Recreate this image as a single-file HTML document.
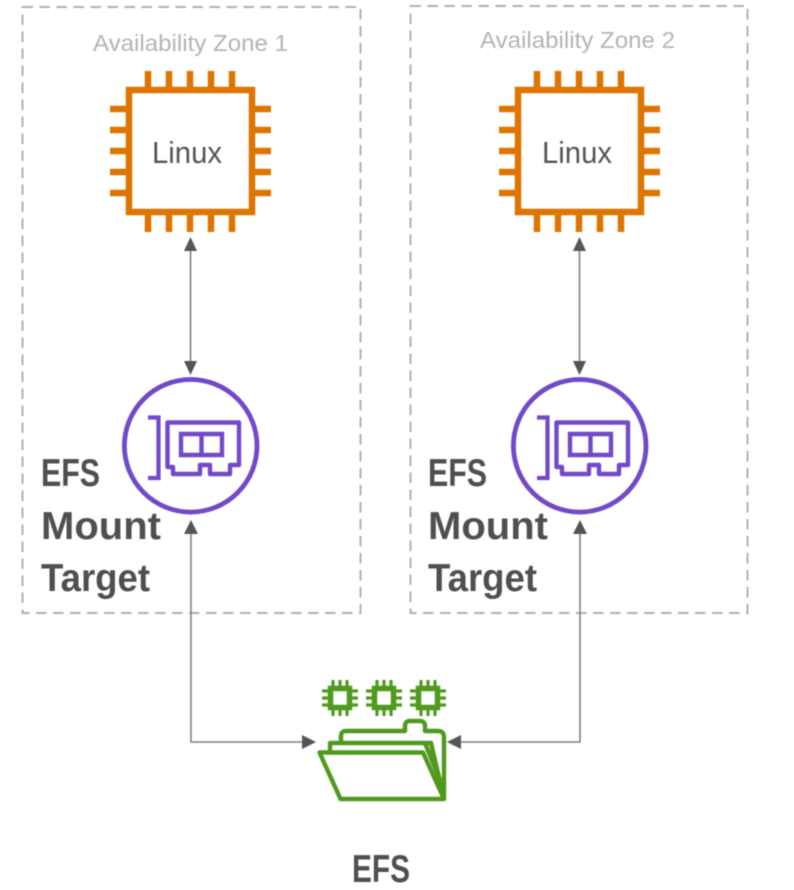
<!DOCTYPE html>
<html>
<head>
<meta charset="utf-8">
<style>
html,body{margin:0;padding:0;background:#fff;width:794px;height:890px;overflow:hidden}
svg{display:block}
text{font-family:"Liberation Sans",sans-serif}
</style>
</head>
<body>
<svg width="794" height="890" viewBox="0 0 794 890" xmlns="http://www.w3.org/2000/svg">
<defs>
<filter id="b" x="-5%" y="-5%" width="110%" height="110%"><feGaussianBlur stdDeviation="0.55"/></filter>
<g id="chip" fill="none" stroke="#dd7400" stroke-width="6.5">
  <rect x="129" y="90" width="123" height="122"/>
  <path stroke-width="6.5" d="M148 71V87M169 71V87M190 71V87M211 71V87M232 71V87M148 215V232M169 215V232M190 215V232M211 215V232M232 215V232M110 109H126M110 130H126M110 151H126M110 172H126M110 193H126M255 109H271M255 130H271M255 151H271M255 172H271M255 193H271"/>
</g>
<g id="nic" fill="none" stroke="#7248c8">
  <circle cx="190.7" cy="445.8" r="66.3" stroke-width="4.8"/>
  <path stroke-width="4.2" d="M148 417.5H158.5V478H148"/>
  <path stroke-width="4.4" stroke-linejoin="round" d="M167.5 422.5H239V465H230V474H210V465H200V474H173V467H167.5Z"/>
  <path stroke-width="4.4" d="M181 434H222V455H181ZM201.5 434V455"/>
</g>
<g id="mini" fill="none" stroke="#4f9a1e">
  <rect x="-9.5" y="-9.5" width="19" height="19" stroke-width="5.5"/>
  <path stroke-width="3.2" d="M-7-18V-12M0-18V-12M7-18V-12M-7 12V18M0 12V18M7 12V18M-18-7H-12M-18 0H-12M-18 7H-12M12-7H18M12 0H18M12 7H18"/>
</g>
</defs>
<g filter="url(#b)">
  <rect x="22.5" y="7" width="338" height="606" fill="none" stroke="#b0b0b0" stroke-width="2" stroke-dasharray="10.5 6.5"/>
  <rect x="410.5" y="6" width="337" height="607" fill="none" stroke="#b0b0b0" stroke-width="2" stroke-dasharray="10.5 6.5"/>

  <text x="93" y="51" font-size="23" fill="#b4b4b4" textLength="195" lengthAdjust="spacingAndGlyphs">Availability Zone 1</text>
  <text x="480" y="48" font-size="23" fill="#b4b4b4" textLength="195" lengthAdjust="spacingAndGlyphs">Availability Zone 2</text>

  <use href="#chip"/>
  <use href="#chip" x="389"/>
  <text x="152" y="163" font-size="31" fill="#555" textLength="70" lengthAdjust="spacingAndGlyphs">Linux</text>
  <text x="542" y="163" font-size="31" fill="#555" textLength="70" lengthAdjust="spacingAndGlyphs">Linux</text>

  <use href="#nic"/>
  <use href="#nic" x="389"/>

  <g font-size="39" font-weight="700" fill="#505050">
    <text x="41" y="486" textLength="59" lengthAdjust="spacingAndGlyphs">EFS</text>
    <text x="41" y="539" textLength="120" lengthAdjust="spacingAndGlyphs">Mount</text>
    <text x="41" y="591" textLength="109" lengthAdjust="spacingAndGlyphs">Target</text>
    <text x="428" y="486" textLength="59" lengthAdjust="spacingAndGlyphs">EFS</text>
    <text x="428" y="539" textLength="120" lengthAdjust="spacingAndGlyphs">Mount</text>
    <text x="428" y="591" textLength="109" lengthAdjust="spacingAndGlyphs">Target</text>
    <text x="352" y="882" textLength="58" lengthAdjust="spacingAndGlyphs">EFS</text>
  </g>

  <g fill="none" stroke="#808080" stroke-width="1.6">
    <path d="M190.5 245V366"/>
    <path d="M579.5 245V366"/>
    <path d="M191 530V742H305"/>
    <path d="M580 530V742H458"/>
  </g>
  <g fill="#555">
    <path d="M190.5 237L184 251H197Z"/>
    <path d="M190.5 375L184 361H197Z"/>
    <path d="M579.5 237L573 251H586Z"/>
    <path d="M579.5 375L573 361H586Z"/>
    <path d="M191 520L184 534H198Z"/>
    <path d="M580 520L573 534H587Z"/>
    <path d="M316 742L302 735V749Z"/>
    <path d="M447 742L461 735V749Z"/>
  </g>

  <use href="#mini" x="340" y="698"/>
  <use href="#mini" x="384" y="698"/>
  <use href="#mini" x="428" y="698"/>

  <g fill="none" stroke="#4f9a1e" stroke-width="4.4" stroke-linejoin="round">
    <path d="M319.5 752.5H423L444 799H340.5Z"/>
    <path d="M330 752V743H431L444 799"/>
    <path d="M341 743V736Q341 731 346 731H405V726Q405 721 410 721H420Q425 721 425 726V731H438Q444 731 444 737V799"/>
    <path d="M425 743L444 790"/>
  </g>
</g>
</svg>
</body>
</html>
